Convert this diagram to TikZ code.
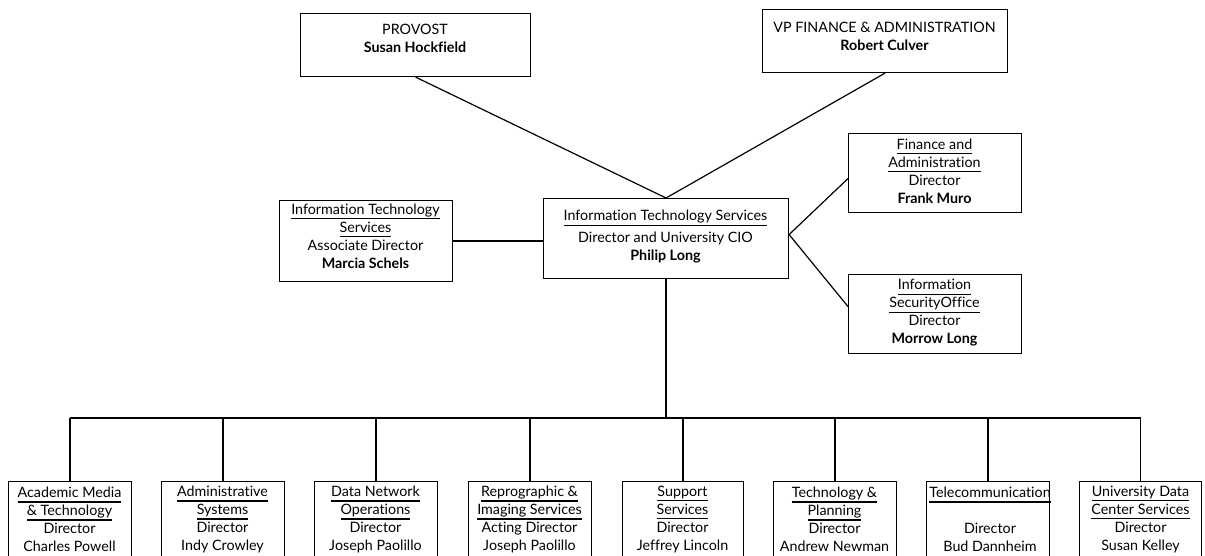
\documentclass[tikz,border=0pt]{standalone}
\usepackage{fontspec}
\setmainfont{Lato}[Ligatures=NoCommon]
\usetikzlibrary{calc}
% underline drawn as a rule below the descenders
\newsavebox\ulbox
\newcommand\ulin[1]{\sbox\ulbox{#1}\rlap{\vrule height -3.6pt depth 5.0pt width \wd\ulbox}\usebox\ulbox}
\begin{document}
\begin{tikzpicture}[x=1pt,y=-1pt]
\tikzset{
  box/.style={draw, line width=1.1pt, inner sep=0pt, anchor=north west},
  txt/.style={align=center, inner sep=0pt, font=\fontsize{14.3}{18}\selectfont},
  link/.style={line width=1.2pt},
}
\useasboundingbox (0,0) rectangle (1205,556);
\clip (0,0) rectangle (1205,556);
\fill[white] (0,0) rectangle (1205,556);

% top level
\node[box, minimum width=230pt, minimum height=63pt] (prov) at (300,13) {};
\node[txt] (provT) at (415,38.5) {PROVOST\\\textbf{Susan Hockfield}};
\node[box, minimum width=245pt, minimum height=63pt] (vp) at (762,9) {};
\node[txt] (vpT) at (884.5,36) {VP FINANCE \& ADMINISTRATION\\\textbf{Robert Culver}};

% middle level
\node[box, minimum width=245pt, minimum height=80pt] (ctr) at (543,198) {};
\node[txt] (ctrT) at (665.5,237) {\ulin{Information Technology Services}\\[4pt]Director and University CIO\\\textbf{Philip Long}};
\node[box, minimum width=173pt, minimum height=81pt] (lb) at (279,200) {};
\node[txt] (lbT) at (365.5,236) {\ulin{Information Technology}\\\ulin{Services}\\Associate Director\\\textbf{Marcia Schels}};
\node[box, minimum width=173pt, minimum height=79pt] (fin) at (848,133) {};
\node[txt] (finT) at (934.5,171) {\ulin{Finance and}\\\ulin{Administration}\\Director\\\textbf{Frank Muro}};
\node[box, minimum width=173pt, minimum height=79pt] (sec) at (848,274) {};
\node[txt] (secT) at (934.5,313) {\ulin{Information}\\\ulin{SecurityOffice}\\Director\\\textbf{Morrow Long}};

% departments
\node[box, minimum width=123pt, minimum height=80pt] (am) at (8,481) {};
\node[txt] (amT) at (69.5,519.5) {\ulin{Academic Media}\\\ulin{\& Technology}\\Director\\Charles Powell};
\node[box, minimum width=123pt, minimum height=80pt] (as) at (161,481) {};
\node[txt] (asT) at (222.5,519.5) {\ulin{Administrative}\\\ulin{Systems}\\Director\\Indy Crowley};
\node[box, minimum width=123pt, minimum height=80pt] (dn) at (314,481) {};
\node[txt] (dnT) at (375.5,519.5) {\ulin{Data Network}\\\ulin{Operations}\\Director\\Joseph Paolillo};
\node[box, minimum width=123pt, minimum height=80pt] (ri) at (468,481) {};
\node[txt] (riT) at (529.5,519.5) {\ulin{Reprographic \&}\\\ulin{Imaging Services}\\Acting Director\\Joseph Paolillo};
\node[box, minimum width=121pt, minimum height=80pt] (ss) at (622,481) {};
\node[txt] (ssT) at (682.5,519.5) {\ulin{Support}\\\ulin{Services}\\Director\\Jeffrey Lincoln};
\node[box, minimum width=123pt, minimum height=80pt] (tp) at (773,481) {};
\node[txt] (tpT) at (834.5,519.5) {\ulin{Technology \&}\\\ulin{Planning}\\Director\\Andrew Newman};
\node[box, minimum width=123pt, minimum height=80pt] (tc) at (926,481) {};
\node[txt] (tcT) at (990,519.5) {\ulin{Telecommunication}\\[18pt]Director\\Bud Dannheim};
\node[box, minimum width=122pt, minimum height=80pt] (ud) at (1079,481) {};
\node[txt] (udT) at (1140.5,519.5) {\ulin{University Data}\\\ulin{Center Services}\\Director\\Susan Kelley};

% connectors
\draw[link] (prov.south) -- (ctr.north);
\draw[link] (vp.south) -- (ctr.north);
\draw[link] (lb.east) -- (lb.east -| ctr.west);
\draw[link] ([yshift=4pt]ctr.east) -- ([yshift=-5.5pt]fin.west);
\draw[link] ([yshift=4pt]ctr.east) -- ([yshift=7.5pt]sec.west);
\coordinate (bus) at (667,418);
\draw[link] (ctr.south) -- (ctr.south |- bus);
\draw[link] (am.north |- bus) -- (ud.north |- bus);
\foreach \n in {am,as,dn,ri,ss,tp,tc,ud}
  \draw[link] (\n.north) -- (\n.north |- bus);
\end{tikzpicture}
\end{document}
